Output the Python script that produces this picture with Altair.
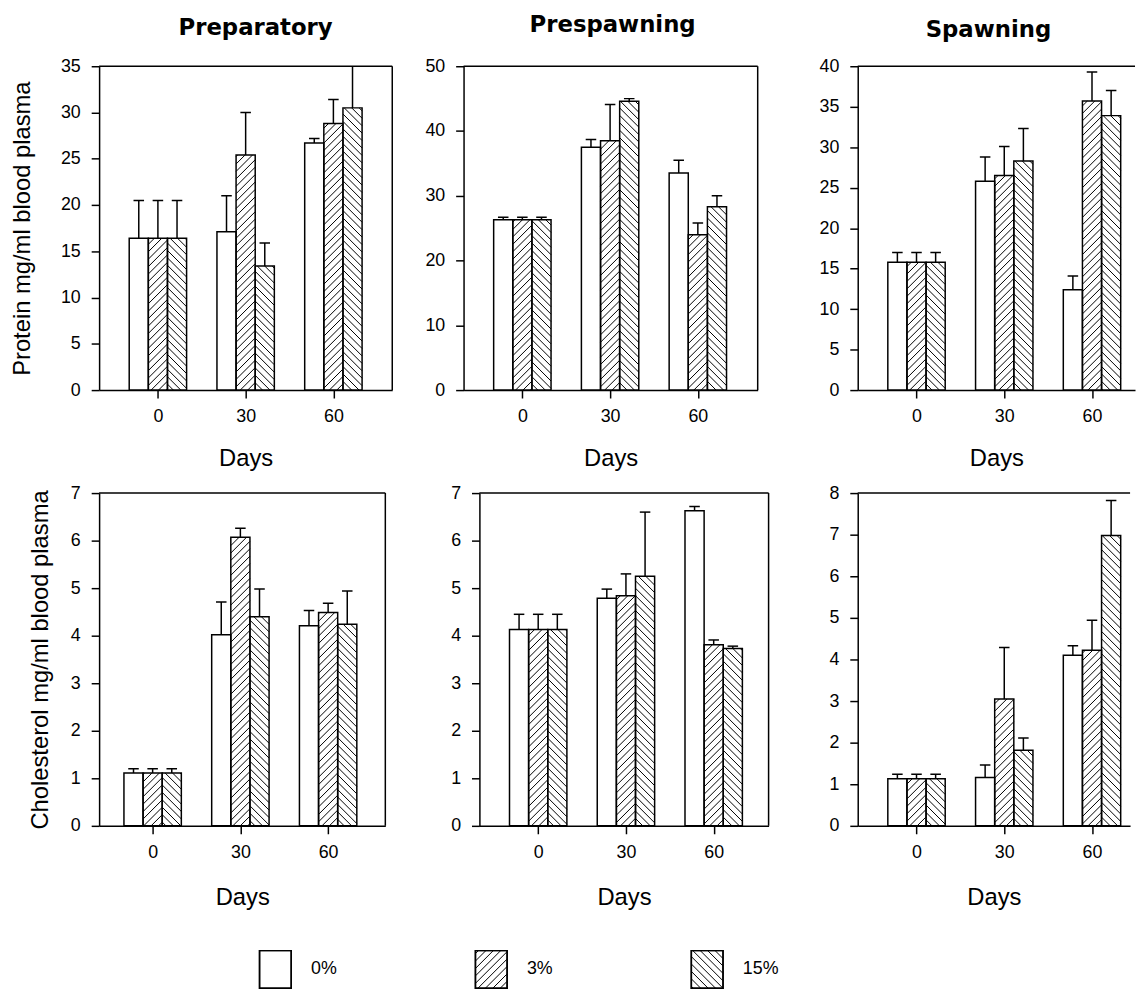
import math
import altair as alt
import pandas as pd

# ---------------- data ----------------
days = ["0", "30", "60"]
treatments = ["0%", "3%", "15%"]
stages = ["Preparatory", "Prespawning", "Spawning"]
x_title = "Days"
protein_title = "Protein mg/ml blood plasma"
cholesterol_title = "Cholesterol mg/ml blood plasma"

# means: one list per treatment (0%, 3%, 15%), values for days 0, 30, 60
prot_prep_mean = [[16.4, 17.1, 26.7], [16.4, 25.4, 28.8], [16.4, 13.4, 30.5]]
prot_prep_err = [[4.1, 3.9, 0.5], [4.1, 4.6, 2.6], [4.1, 2.5, 5.5]]
prot_presp_mean = [[26.3, 37.5, 33.5], [26.3, 38.5, 24.0], [26.3, 44.6, 28.3]]
prot_presp_err = [[0.4, 1.2, 2.0], [0.4, 5.6, 1.8], [0.4, 0.4, 1.7]]
prot_spawn_mean = [[15.8, 25.8, 12.4], [15.8, 26.5, 35.7], [15.8, 28.3, 33.9]]
prot_spawn_err = [[1.2, 3.0, 1.7], [1.2, 3.6, 3.6], [1.2, 4.0, 3.1]]

chol_prep_mean = [[1.11, 4.02, 4.21], [1.11, 6.07, 4.49], [1.11, 4.40, 4.24]]
chol_prep_err = [[0.09, 0.69, 0.32], [0.09, 0.19, 0.19], [0.09, 0.58, 0.70]]
chol_presp_mean = [[4.13, 4.79, 6.63], [4.13, 4.84, 3.81], [4.13, 5.25, 3.73]]
chol_presp_err = [[0.32, 0.19, 0.09], [0.32, 0.46, 0.10], [0.32, 1.35, 0.05]]
chol_spawn_mean = [[1.13, 1.16, 4.10], [1.13, 3.05, 4.22], [1.13, 1.82, 6.98]]
chol_spawn_err = [[0.11, 0.30, 0.23], [0.11, 1.24, 0.72], [0.11, 0.29, 0.84]]

# ---------------- style / geometry ----------------
FONT = "Liberation Sans"
TFONT = "DejaVu Sans"
PX = 88.6          # pixels per day-group unit
BW = 0.218         # bar width (group units)
CAP = 0.06         # half cap width
HATCH = 7.5        # hatch spacing in px
pattern = {"0%": 0, "3%": 1, "15%": -1}
NOVIEW = alt.ViewBackground(stroke="transparent")


def hatch(x0, x1, y0, y1, sx, sy, xmin, ymin, direction):
    px0, px1 = (x0 - xmin) * sx, (x1 - xmin) * sx
    py0, py1 = (y0 - ymin) * sy, (y1 - ymin) * sy
    out = []
    if direction == 0:
        return out
    if direction > 0:
        lo, hi = py0 - px1, py1 - px0
    else:
        lo, hi = py0 + px0, py1 + px1
    k = math.ceil(lo / HATCH)
    while k * HATCH <= hi:
        c = k * HATCH
        if direction > 0:
            xa, xb = max(px0, py0 - c), min(px1, py1 - c)
            ya, yb = xa + c, xb + c
        else:
            xa, xb = max(px0, c - py1), min(px1, c - py0)
            ya, yb = c - xa, c - xb
        if xb - xa > 0.6:
            out.append({"hx": xmin + xa / sx, "hx2": xmin + xb / sx,
                        "hy": ymin + ya / sy, "hy2": ymin + yb / sy})
        k += 1
    return out


label_expr = "[" + ",".join("'%s'" % d for d in days) + "][datum.value]"


def panel(means, errs, ymax, ystep, width, height, xmin=-0.67, ytitle=None, ytpad=10,
          xtpad=21, title=None, tdx=0, toff=14, right_frame=True):
    xmax = xmin + width / PX
    sy = height / ymax
    rows, hrows = [], []
    for ti, t in enumerate(treatments):
        for di, _ in enumerate(days):
            c = di + (ti - 1) * BW
            m, e = means[ti][di], errs[ti][di]
            rows.append(dict(t=t, c=c, x0=c - BW / 2, x1=c + BW / 2, m=m, zero=0.0,
                             top=m + e, cl=c - CAP, cr=c + CAP))
            hrows += hatch(c - BW / 2, c + BW / 2, 0, m, PX, sy, xmin, 0, pattern[t])
    df = pd.DataFrame(rows)
    hdf = pd.DataFrame(hrows)
    fdf = pd.DataFrame({"fx0": [xmin], "fx1": [xmax], "fy": [ymax], "f0": [0.0]})

    xs = alt.Scale(domain=[xmin, xmax], nice=False, zero=False)
    ys = alt.Scale(domain=[0, ymax], nice=False, zero=False)
    xaxis = alt.Axis(values=[0, 1, 2], labelExpr=label_expr, title=x_title, grid=False,
                     tickSize=8, tickWidth=1.5, tickColor="black", domainColor="black",
                     domainWidth=1.5, labelFont=FONT, labelFontSize=18, labelColor="black",
                     labelPadding=10, labelAngle=0, titleFont=FONT, titleFontSize=24,
                     titleFontWeight="normal", titleColor="black", titlePadding=xtpad)
    yaxis = alt.Axis(values=list(range(0, ymax + 1, ystep)), title=ytitle, grid=False,
                     tickSize=8, tickWidth=1.5, tickColor="black", domainColor="black",
                     domainWidth=1.5, labelFont=FONT, labelFontSize=18, labelColor="black",
                     labelPadding=11, titleFont=FONT, titleFontSize=24,
                     titleFontWeight="normal", titleColor="black", titlePadding=ytpad)

    def X(f):
        return alt.X(f, type="quantitative", scale=xs, axis=xaxis, title=x_title)

    def Y(f):
        return alt.Y(f, type="quantitative", scale=ys, axis=yaxis, title=ytitle)

    base = alt.Chart(df)
    fill = base.mark_rect(fill="white", strokeWidth=0).encode(
        x=X("x0"), x2="x1:Q", y=Y("m"), y2="zero:Q")
    hat = alt.Chart(hdf).mark_rule(color="black", strokeWidth=1).encode(
        x=X("hx"), x2="hx2:Q", y=Y("hy"), y2="hy2:Q")
    outline = base.mark_rect(fillOpacity=0, stroke="black", strokeWidth=1.5).encode(
        x=X("x0"), x2="x1:Q", y=Y("m"), y2="zero:Q")
    err = base.mark_rule(color="black", strokeWidth=1.5, clip=True).encode(
        x=X("c"), y=Y("m"), y2="top:Q")
    cap = base.mark_rule(color="black", strokeWidth=1.5, clip=True).encode(
        x=X("cl"), x2="cr:Q", y=Y("top"))
    layers = [fill, hat, outline, err, cap]
    fr = alt.Chart(fdf)
    layers.append(fr.mark_rule(color="black", strokeWidth=1.5).encode(
        x=X("fx0"), x2="fx1:Q", y=Y("fy")))
    if right_frame:
        layers.append(fr.mark_rule(color="black", strokeWidth=1.5).encode(
            x=X("fx1"), y=Y("f0"), y2="fy:Q"))
    props = dict(width=width, height=height, view=NOVIEW)
    if title is not None:
        props["title"] = alt.TitleParams(text=title, font=TFONT, fontSize=23,
                                         fontWeight="bold", color="black",
                                         anchor="middle", dx=tdx, offset=toff)
    return alt.layer(*layers).properties(**props)


p1 = panel(prot_prep_mean, prot_prep_err, 35, 5, 296, 327, ytitle=protein_title,
           ytpad=26, title=stages[0], tdx=10, toff=18)
p2 = panel(prot_presp_mean, prot_presp_err, 50, 10, 297, 327,
           title=stages[1], tdx=2, toff=21)
p3 = panel(prot_spawn_mean, prot_spawn_err, 40, 5, 280, 327,
           title=stages[2], tdx=-8, toff=16, right_frame=False)
p4 = panel(chol_prep_mean, chol_prep_err, 7, 1, 289, 336, xmin=-0.61,
           ytitle=cholesterol_title, ytpad=18, xtpad=24)
p5 = panel(chol_presp_mean, chol_presp_err, 7, 1, 292, 336, xtpad=24)
p6 = panel(chol_spawn_mean, chol_spawn_err, 8, 1, 275, 336, xtpad=24, right_frame=False)

# ---------------- legend ----------------
LPX = 218.0
LH = 38
LX0 = -0.3165
lrows, lh = [], []
for i, t in enumerate(treatments):
    c = i + 0.5
    lrows.append(dict(t=t, c=c, x0=c - 16 / LPX, x1=c + 16 / LPX, y0=0.0, y1=1.0, ym=0.5))
    lh += hatch(c - 16 / LPX, c + 16 / LPX, 0, 1, LPX, LH, LX0, 0, pattern[t])
ldf = pd.DataFrame(lrows)
lhdf = pd.DataFrame(lh)
lxs = alt.Scale(domain=[LX0, LX0 + 3], nice=False, zero=False)
lys = alt.Scale(domain=[0, 1], nice=False, zero=False)
lbase = alt.Chart(ldf)
lbox = lbase.mark_rect(fill="white", stroke="black", strokeWidth=1.5).encode(
    x=alt.X("x0:Q", scale=lxs, axis=None), x2="x1:Q",
    y=alt.Y("y0:Q", scale=lys, axis=None), y2="y1:Q")
lhat = alt.Chart(lhdf).mark_rule(color="black", strokeWidth=1).encode(
    x=alt.X("hx:Q", scale=lxs, axis=None), x2="hx2:Q",
    y=alt.Y("hy:Q", scale=lys, axis=None), y2="hy2:Q")
lbox2 = lbase.mark_rect(fillOpacity=0, stroke="black", strokeWidth=1.5).encode(
    x=alt.X("x0:Q", scale=lxs, axis=None), x2="x1:Q",
    y=alt.Y("y0:Q", scale=lys, axis=None), y2="y1:Q")
ltext = lbase.mark_text(align="left", baseline="middle", dx=36, font=FONT,
                        fontSize=18, color="black").encode(
    x=alt.X("c:Q", scale=lxs, axis=None), y=alt.Y("ym:Q", scale=lys, axis=None),
    text="t:N")
legend = alt.layer(lbox, lhat, lbox2, ltext).properties(width=654, height=LH, view=NOVIEW)

row1 = alt.hconcat(p1, alt.hconcat(p2, p3, spacing=59), spacing=30)
row2 = alt.hconcat(p4, alt.hconcat(p5, p6, spacing=58), spacing=63)
chart = alt.vconcat(alt.vconcat(row1, row2, spacing=12), legend, spacing=39).properties(
    padding={"left": 2, "top": 0, "right": 0, "bottom": 0}
).configure_view(stroke="transparent").configure(background="white")

chart.save("out.html", embed_options={"renderer": "svg", "actions": False})
